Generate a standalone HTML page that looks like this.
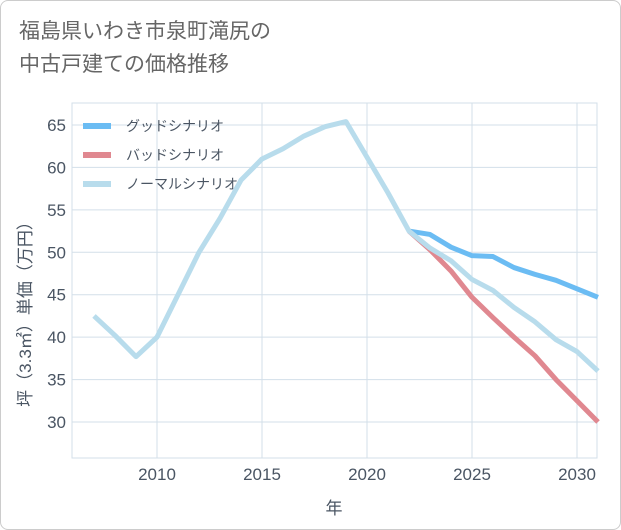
<!DOCTYPE html>
<html><head><meta charset="utf-8"><style>
body{margin:0;background:#fff;}
.wrap{width:619px;height:528px;border:1px solid #ccc;border-radius:8px;position:relative;overflow:hidden;background:#fff;font-family:"Liberation Sans","Noto Sans CJK JP",sans-serif;}
.title{position:absolute;left:18px;top:14px;font-size:21px;line-height:33px;color:#666;}
</style></head><body>
<div class="wrap">
<div class="title">福島県いわき市泉町滝尻の<br>中古戸建ての価格推移</div>
<svg id="chart" width="621" height="530" style="position:absolute;left:-1px;top:-1px"></svg>
</div>
<script>
const years=[2007,2008,2009,2010,2011,2012,2013,2014,2015,2016,2017,2018,2019,2020,2021,2022,2023,2024,2025,2026,2027,2028,2029,2030,2031];
const normalVals=[42.5,40.2,37.7,40,45,50,54,58.5,61,62.2,63.7,64.8,65.4,61.2,57,52.5,50.5,49,46.8,45.5,43.5,41.8,39.7,38.3,36];
const futureYears=[2022,2023,2024,2025,2026,2027,2028,2029,2030,2031];
const goodVals=[52.5,52.1,50.6,49.6,49.5,48.2,47.4,46.7,45.7,44.7];
const badVals=[52.5,50.3,47.8,44.7,42.3,40,37.8,35,32.5,30];
const xTicks=[2010,2015,2020,2025,2030];
const yTicks=[30,35,40,45,50,55,60,65];
const legendLabels=["グッドシナリオ","バッドシナリオ","ノーマルシナリオ"];
const L=72,R=597,T=103,B=458;
const x=v=>157+(v-2010)*21;
const y=v=>422-(v-30)*(297/35);
const svg=document.getElementById('chart');
const NS='http://www.w3.org/2000/svg';
const TXT='#4a5563', GRID='#d3dfe9';
function mk(t,a){const e=document.createElementNS(NS,t);for(const k in a)e.setAttribute(k,a[k]);svg.appendChild(e);return e;}
let e=mk('rect',{x:L,y:T,width:R-L,height:B-T,fill:'none',stroke:GRID});


yTicks.forEach(v=>{
 let g=mk('line',{x1:L,x2:R,y1:y(v),y2:y(v),stroke:GRID});
 
 
 let t=mk('text',{x:L-6,y:y(v)+6,'text-anchor':'end','font-size':17,fill:TXT});t.textContent=v;
 
 
});
xTicks.forEach(v=>{
 let g=mk('line',{x1:x(v),x2:x(v),y1:T,y2:B,stroke:GRID});
 
 
 let t=mk('text',{x:x(v),y:480,'text-anchor':'middle','font-size':17,fill:TXT});t.textContent=v;
 
 
});
let xt=mk('text',{x:334,y:514,'text-anchor':'middle','font-size':17,fill:TXT});xt.textContent='年';


let yt=mk('text',{x:0,y:0,'text-anchor':'middle','font-size':17,fill:TXT,transform:'translate(31,310) rotate(-90)'});yt.textContent='坪（3.3㎡）単価（万円）';


function line(xs,vs,c,name){
 const p=mk('polyline',{points:xs.map((v,i)=>x(v)+','+y(vs[i])).join(' '),fill:'none',stroke:c,'stroke-width':5,'stroke-linejoin':'round'});
 
 
}
line(futureYears,goodVals,'#6bbcf3','good-scenario-line');
line(futureYears,badVals,'#e08890','bad-scenario-line');
line(years,normalVals,'#b8dcec','normal-scenario-line');
const lc=['#6bbcf3','#e08890','#b8dcec'];
legendLabels.forEach((s,i)=>{
 const yy=126+i*29;
 let l=mk('line',{x1:83,x2:111,y1:yy,y2:yy,stroke:lc[i],'stroke-width':6});
 
 
 let t=mk('text',{x:126,y:yy+5,'font-size':14,fill:TXT});t.textContent=s;
 
 
});
</script>
</body></html>
